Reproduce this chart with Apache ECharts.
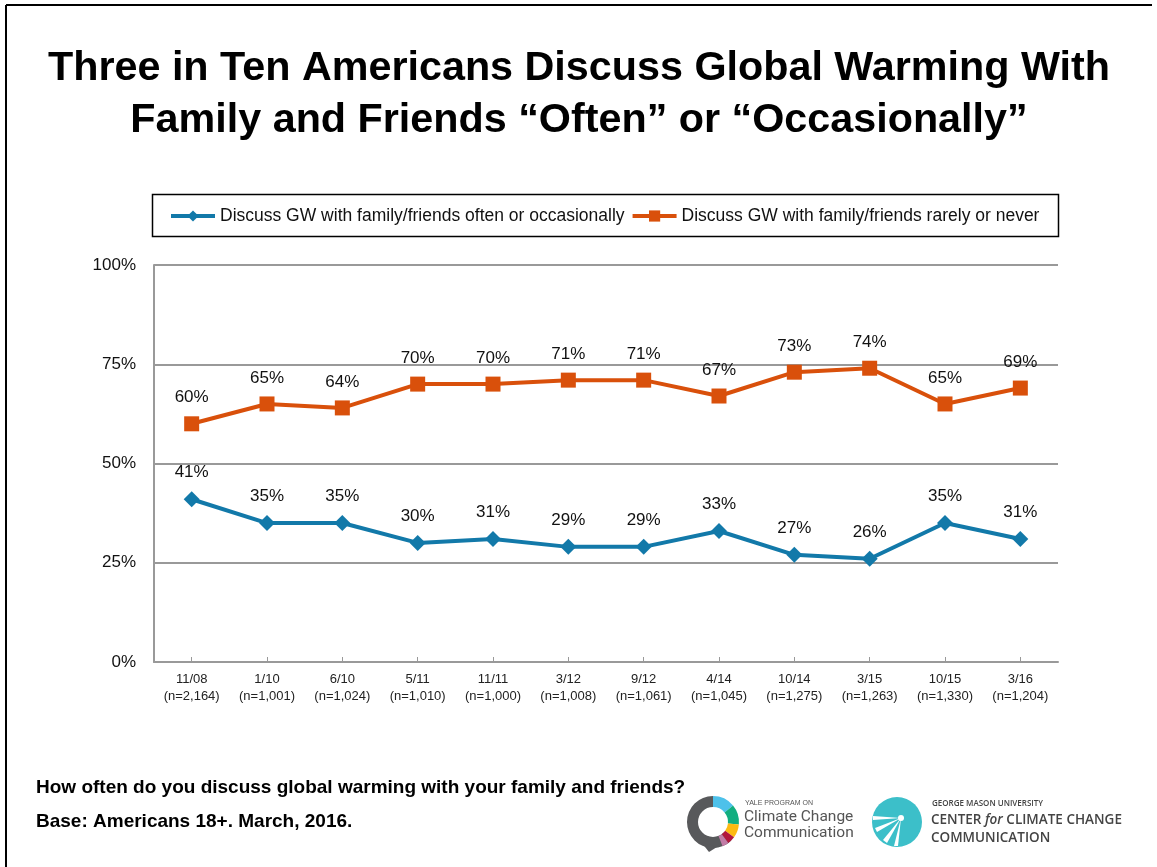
<!DOCTYPE html>
<html>
<head>
<meta charset="utf-8">
<script src="https://cdn.jsdelivr.net/npm/echarts@6/dist/echarts.min.js"></script>
<style>html,body{margin:0;padding:0;background:#fff;}#c{width:1157px;height:867px;}</style>
</head>
<body>
<div id="c"></div>
<script>
const categories = ['11/08','1/10','6/10','5/11','11/11','3/12','9/12','4/14','10/14','3/15','10/15','3/16'];
const sampleSizes = ['2,164','1,001','1,024','1,010','1,000','1,008','1,061','1,045','1,275','1,263','1,330','1,204'];
const oftenValues = [41,35,35,30,31,29,29,33,27,26,35,31];
const rarelyValues = [60,65,64,70,70,71,71,67,73,74,65,69];
const yTicks = [0,25,50,75,100];
const seriesNames = ['Discuss GW with family/friends often or occasionally','Discuss GW with family/friends rarely or never'];
const blue = '#1279A9', orange = '#D9500B';
const font = 'Liberation Sans, Arial, sans-serif';

const chart = echarts.init(document.getElementById('c'));
const labelCfg = {show:true, position:'top', distance:10, fontFamily:font, fontSize:17, color:'#111', formatter: p => Math.round(p.value) + '%'};
chart.setOption({
  backgroundColor:'#fff',
  animation:false,
  grid:{left:154, right:99, top:265, bottom:205, containLabel:false},
  legend:{
    left:164, top:202, itemWidth:44, itemHeight:14, itemGap:6,
    lineStyle:{width:4},
    textStyle:{fontFamily:font, fontSize:17.5, color:'#111'},
    data:seriesNames
  },
  xAxis:{
    type:'category', data:categories.map((c,i)=>c+'\n(n='+sampleSizes[i]+')'),
    boundaryGap:true,
    axisLine:{lineStyle:{color:'#999', width:2}},
    axisTick:{show:true, inside:true, length:5, alignWithLabel:true, lineStyle:{color:'#999', width:1}},
    axisLabel:{fontFamily:font, fontSize:13, color:'#222', lineHeight:17, margin:9, interval:0}
  },
  yAxis:{
    type:'value', min:0, max:100, interval:25,
    axisLine:{show:true, lineStyle:{color:'#999', width:2}},
    axisTick:{show:false},
    splitLine:{lineStyle:{color:'#999', width:2}},
    axisLabel:{fontFamily:font, fontSize:17, color:'#111', margin:18, formatter: v => yTicks.includes(v) ? v+'%' : ''}
  },
  series:[
    {name:seriesNames[0], type:'line', data:oftenValues, symbol:'diamond', symbolSize:16,
     itemStyle:{color:blue}, lineStyle:{color:blue, width:4}, label:labelCfg},
    {name:seriesNames[1], type:'line', data:rarelyValues, symbol:'rect', symbolSize:15,
     itemStyle:{color:orange}, lineStyle:{color:orange, width:4}, label:labelCfg}
  ],
  graphic:[
    {type:'line', shape:{x1:6,y1:5,x2:1152,y2:5}, style:{stroke:'#000', lineWidth:2}},
    {type:'line', shape:{x1:6,y1:5,x2:6,y2:867}, style:{stroke:'#000', lineWidth:2}},
    {type:'text', x:579, y:69, style:{text:'Three in Ten Americans Discuss Global Warming With', font:'bold 41.3px '+font, fill:'#000', align:'center', verticalAlign:'middle'}},
    {type:'text', x:579, y:121, style:{text:'Family and Friends \u201cOften\u201d or \u201cOccasionally\u201d', font:'bold 41.3px '+font, fill:'#000', align:'center', verticalAlign:'middle'}},
    {type:'rect', shape:{x:152.5,y:194.5,width:906,height:42}, style:{fill:'none', stroke:'#000', lineWidth:1.5}, z:-1},
    {type:'text', x:36, y:788, style:{text:'How often do you discuss global warming with your family and friends?', font:'bold 19px '+font, fill:'#000', verticalAlign:'middle'}},
    {type:'text', x:36, y:822, style:{text:'Base: Americans 18+. March, 2016.', font:'bold 19px '+font, fill:'#000', verticalAlign:'middle'}},
    // Yale logo ring
    {type:'group', x:713, y:822, children:[
      {type:'sector', shape:{cx:0,cy:0,r:26,r0:15,startAngle:Math.PI*0.25,endAngle:Math.PI*1.5}, style:{fill:'#58595B'}},
      {type:'sector', shape:{cx:0,cy:0,r:26,r0:15,startAngle:Math.PI*1.5,endAngle:Math.PI*1.78}, style:{fill:'#4DC1EA'}},
      {type:'sector', shape:{cx:0,cy:0,r:26,r0:15,startAngle:Math.PI*1.78,endAngle:Math.PI*2.03}, style:{fill:'#12AE80'}},
      {type:'sector', shape:{cx:0,cy:0,r:26,r0:15,startAngle:Math.PI*0.03,endAngle:Math.PI*0.2}, style:{fill:'#FDBA12'}},
      {type:'sector', shape:{cx:0,cy:0,r:26,r0:15,startAngle:Math.PI*0.2,endAngle:Math.PI*0.3}, style:{fill:'#B3163C'}},
      {type:'sector', shape:{cx:0,cy:0,r:26,r0:15,startAngle:Math.PI*0.3,endAngle:Math.PI*0.38}, style:{fill:'#C27CA6'}},
      {type:'polygon', shape:{points:[[-12,20],[-4,30],[4,25]]}, style:{fill:'#58595B'}}
    ]},
    {type:'text', left:745, top:800, style:{text:'YALE PROGRAM ON', font:'7px '+font, fill:'#555'}},
    {type:'text', left:744, top:809, style:{text:'Climate Change', font:'15.5px Roboto, '+font, fill:'#555'}},
    {type:'text', left:744, top:825, style:{text:'Communication', font:'15.5px Roboto, '+font, fill:'#555'}},
    // GMU logo
    {type:'group', x:897, y:822, children:[
      {type:'circle', shape:{cx:0,cy:0,r:25}, style:{fill:'#3CBFC9'}},
      {type:'polygon', shape:{points:[[4,-4],[-24,-6],[-24,-2]]}, style:{fill:'#fff'}},
      {type:'polygon', shape:{points:[[4,-4],[-22,6],[-20,10]]}, style:{fill:'#fff'}},
      {type:'polygon', shape:{points:[[4,-4],[-14,18],[-10,21]]}, style:{fill:'#fff'}},
      {type:'polygon', shape:{points:[[4,-4],[-3,24],[1,24]]}, style:{fill:'#fff'}},
      {type:'circle', shape:{cx:4,cy:-4,r:3}, style:{fill:'#fff'}}
    ]},
    {type:'text', left:932, top:800, style:{text:'GEORGE MASON UNIVERSITY', font:'600 8px "Open Sans", '+font, fill:'#444'}},
    {type:'text', left:931, top:813, style:{text:'{a|CENTER }{b|for}{a| CLIMATE CHANGE}', rich:{a:{font:'600 13.5px "Open Sans", '+font, fill:'#444'}, b:{font:'italic 600 13.5px "Open Sans", '+font, fill:'#444'}}}},
    {type:'text', left:931, top:831, style:{text:'COMMUNICATION', font:'600 13.5px "Open Sans", '+font, fill:'#444'}}
  ]
});
</script>
</body>
</html>
